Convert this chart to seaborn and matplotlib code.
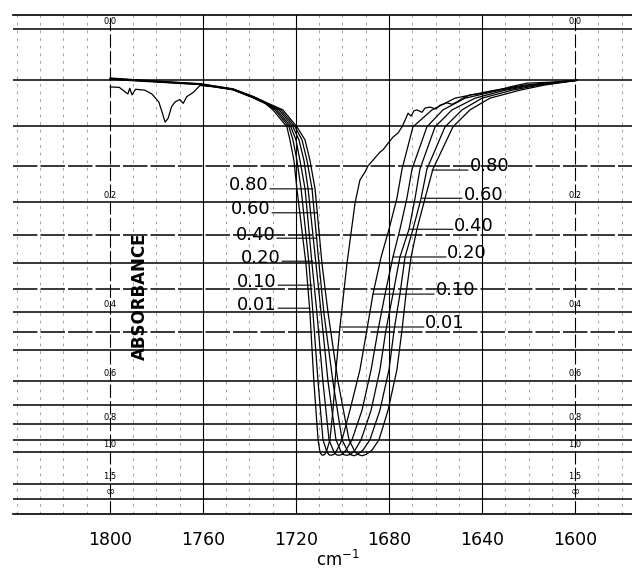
import numpy as np
import pandas as pd
import matplotlib
matplotlib.use("Agg")
import matplotlib.pyplot as plt
import seaborn as sns

# traces: wavenumber (cm-1) and transmittance (fraction)
wn_001 = [1800, 1796, 1792.3, 1791.5, 1790.5, 1789, 1785, 1782, 1779, 1777.5,
          1776.3, 1775, 1773.5, 1772, 1770, 1768.5, 1767, 1764, 1761.3, 1755,
          1747.1, 1738.5, 1733.3, 1729.9, 1723.9, 1722.6, 1720.9, 1719.6, 1715.7, 1714.0,
          1712.3, 1710.5, 1709.7, 1709.0, 1708.4, 1707.6, 1706.7, 1705.4, 1704.1, 1702.8,
          1701.1, 1698.1, 1694.6, 1692.5, 1690.3, 1689.0, 1686.9, 1683.9, 1682.6, 1680.4,
          1678.3, 1676.1, 1674.4, 1673.1, 1671.8, 1670.5, 1669.3, 1668.0, 1665.8, 1664.5,
          1662.4, 1659.8, 1658.1, 1655.1, 1652.9, 1650.8, 1648.2, 1645.2, 1641.7, 1637.8,
          1633.1, 1628.0, 1620.6, 1610.8, 1599]
t_001 = [.877, .876, .862, .874, .860, .872, .870, .862, .845, .822,
         .802, .810, .835, .845, .850, .842, .856, .866, .880, .877,
         .871, .854, .842, .828, .792, .764, .721, .660, .500, .396,
         .249, .126, .100, .094, .093, .095, .104, .126, .189, .275,
         .366, .500, .630, .679, .696, .709, .721, .738, .743, .757,
         .770, .779, .792, .806, .821, .815, .826, .828, .823, .832,
         .834, .830, .838, .843, .840, .845, .853, .860, .862, .866,
         .870, .877, .885, .887, .891]

wn_010 = [1800, 1782.8, 1761.3, 1747.1, 1738.5, 1733.3, 1729.0, 1723.0, 1721.3, 1719.6,
          1717.8, 1714.4, 1712.7, 1710.5, 1708.4, 1706.7, 1705.8, 1704.9, 1703.6, 1702.4,
          1700.2, 1696.8, 1692.5, 1689.5, 1686.9, 1683.4, 1680.0, 1676.6, 1674.4, 1669.7,
          1661.5, 1651.6, 1634.4, 1621.5, 1599]
t_010 = [.894, .889, .883, .872, .855, .843, .828, .792, .764, .721,
         .660, .500, .396, .249, .126, .100, .094, .093, .095, .104,
         .126, .189, .275, .360, .436, .515, .574, .640, .702, .792,
         .828, .853, .870, .881, .891]

wn_020 = [1800, 1782.8, 1761.3, 1747.1, 1738.5, 1733.3, 1728.2, 1722.2, 1720.0, 1718.3,
          1716.1, 1713.1, 1711.0, 1708.4, 1705.8, 1703.7, 1702.6, 1701.5, 1700.0, 1698.5,
          1695.9, 1691.6, 1687.7, 1684.7, 1681.7, 1678.3, 1675.3, 1672.3, 1670.1, 1663.7,
          1656.8, 1647.3, 1632.3, 1619.4, 1599]
t_020 = [.893, .888, .882, .871, .854, .842, .828, .792, .764, .721,
         .660, .500, .396, .249, .126, .100, .094, .093, .095, .104,
         .126, .189, .275, .360, .436, .515, .574, .640, .702, .792,
         .828, .853, .870, .881, .891]

wn_040 = [1800, 1782.8, 1761.3, 1747.1, 1738.5, 1733.3, 1727.3, 1721.3, 1718.7, 1716.6,
          1714.8, 1711.4, 1709.2, 1706.2, 1702.8, 1700.6, 1699.4, 1698.1, 1696.5, 1694.6,
          1692.0, 1687.7, 1683.9, 1681.3, 1678.3, 1675.3, 1671.4, 1668.8, 1666.7, 1660.2,
          1652.9, 1643.0, 1630.1, 1617.2, 1599]
t_040 = [.895, .890, .883, .872, .856, .844, .828, .792, .764, .721,
         .660, .500, .396, .249, .126, .100, .094, .093, .095, .104,
         .126, .189, .275, .360, .436, .515, .574, .640, .702, .792,
         .828, .853, .870, .881, .891]

wn_060 = [1800, 1782.8, 1761.3, 1747.1, 1738.5, 1733.3, 1726.5, 1720.4, 1717.4, 1715.3,
          1713.1, 1710.1, 1708.0, 1704.1, 1700.2, 1697.6, 1696.4, 1695.1, 1693.5, 1691.2,
          1688.2, 1683.9, 1680.0, 1677.8, 1675.3, 1673.1, 1669.7, 1666.2, 1663.7, 1655.9,
          1648.6, 1640.0, 1627.1, 1615.1, 1599]
t_060 = [.894, .889, .882, .871, .855, .843, .828, .792, .764, .721,
         .660, .500, .396, .249, .126, .100, .094, .092, .095, .104,
         .126, .189, .275, .360, .436, .515, .574, .640, .702, .792,
         .828, .853, .870, .881, .891]

wn_080 = [1800, 1782.8, 1761.3, 1747.1, 1738.5, 1733.3, 1725.6, 1719.6, 1716.1, 1714.0,
          1711.8, 1708.8, 1706.2, 1701.9, 1697.2, 1694.6, 1693.0, 1691.6, 1689.8, 1687.3,
          1684.3, 1680.4, 1676.6, 1674.4, 1672.7, 1670.5, 1668.0, 1664.5, 1661.1, 1652.5,
          1645.2, 1636.6, 1623.7, 1613.0, 1599]
t_080 = [.896, .890, .884, .873, .857, .845, .828, .792, .764, .721,
         .660, .500, .396, .249, .126, .100, .094, .092, .095, .104,
         .126, .189, .275, .360, .436, .515, .574, .640, .702, .792,
         .828, .853, .870, .881, .891]

conc = ["0.01", "0.10", "0.20", "0.40", "0.60", "0.80"]
wn_all = [wn_001, wn_010, wn_020, wn_040, wn_060, wn_080]
t_all = [t_001, t_010, t_020, t_040, t_060, t_080]

# chart paper: absorbance rulings and labels
abs_lines = [0.0, 0.05, 0.1, 0.15, 0.2, 0.25, 0.3, 0.35, 0.4, 0.45, 0.5,
             0.6, 0.7, 0.8, 0.9, 1.0, 1.5]
abs_dashed = [0.15, 0.25, 0.35, 0.45]
abs_lab_vals = [0.0, 0.2, 0.4, 0.6, 0.8, 1.0, 1.5]
abs_lab_text = ["0.0", "0.2", "0.4", "0.6", "0.8", "1.0", "1.5"]

x_major = [1800, 1760, 1720, 1680, 1640, 1600]
x_minor = [1840, 1830, 1820, 1810, 1790, 1780, 1770, 1750, 1740, 1730, 1710, 1700,
           1690, 1670, 1660, 1650, 1630, 1620, 1610, 1590, 1580]

# curve labels: (text, point on curve wn, T, leader start wn)
left_labels = [("0.80", 1712.7, 0.660, 1731.2), ("0.60", 1711.0, 0.609, 1730.3),
               ("0.40", 1711.0, 0.555, 1728.2), ("0.20", 1712.7, 0.506, 1726.0),
               ("0.10", 1713.1, 0.455, 1727.7), ("0.01", 1714.0, 0.406, 1727.7)]
right_labels = [("0.80", 1661.5, 0.700, 1646.0), ("0.60", 1665.8, 0.640, 1648.6),
                ("0.40", 1671.0, 0.574, 1652.5), ("0.20", 1678.3, 0.515, 1655.5),
                ("0.10", 1686.9, 0.436, 1660.6), ("0.01", 1701.1, 0.366, 1665.0)]

df = pd.concat([pd.DataFrame({"wn": w, "T": t, "conc": c})
                for w, t, c in zip(wn_all, t_all, conc)], ignore_index=True)

sns.set_style("white")
plt.rcParams["font.family"] = ["DejaVu Sans"]
plt.rcParams["text.color"] = "black"
plt.rcParams["xtick.color"] = "black"
plt.rcParams["axes.labelcolor"] = "black"

fig = plt.figure(figsize=(6.32, 5.71), dpi=100)
ax = fig.add_axes([13 / 632, 57 / 571, 619 / 632, 499 / 571])

for a in abs_lines:
    ls = (0, (16, 2)) if a in abs_dashed else "-"
    ax.axhline(10 ** (-a), color="black", lw=1.1, ls=ls, zorder=1)
ax.axhline(0.0, color="black", lw=1.1, zorder=1)

for w in x_minor:
    ax.axvline(w, color="0.5", lw=0.5, ls=(0, (4, 7)), zorder=0)
for w in x_major:
    ls = (0, (12, 3)) if w in (1800, 1600) else "-"
    ax.axvline(w, color="black", lw=0.8, ls=ls, zorder=0)

sns.lineplot(data=df, x="wn", y="T", units="conc", estimator=None, sort=False,
             color="black", lw=0.9, ax=ax, legend=False, zorder=3)

ax.set_xlim(1841.7, 1575.5)
ax.set_ylim(-0.032, 1.030)
ax.set_xticks(x_major)
ax.set_xticklabels([str(v) for v in x_major])
ax.set_yticks([])
ax.tick_params(axis="x", length=0, pad=12, labelsize=12.5, labelcolor="black")
ax.set_ylabel("")
ax.set_xlabel("cm$^{-1}$", fontsize=12, color="black")
ax.xaxis.set_label_coords(0.525, -0.072)
for s in ("left", "right"):
    ax.spines[s].set_visible(False)
for s in ("top", "bottom"):
    ax.spines[s].set_linewidth(1.2)
    ax.spines[s].set_color("black")

for w in (1800, 1600):
    for v, lab in zip(abs_lab_vals, abs_lab_text):
        ax.annotate(lab, (w, 10 ** (-v)), xytext=(0, 2), textcoords="offset points",
                    ha="center", va="bottom", fontsize=6, color="black")
    ax.annotate("∞", (w, 0.0), xytext=(0, 1), textcoords="offset points",
                ha="center", va="bottom", fontsize=8, color="black")

for lab, wc, tc, ws in left_labels:
    ax.annotate("", xy=(wc, tc), xytext=(ws, tc),
                arrowprops=dict(arrowstyle="-", lw=0.8, color="black", shrinkA=0, shrinkB=0))
    ax.annotate(lab, (ws, tc), xytext=(-1, -1), textcoords="offset points",
                ha="right", va="baseline", fontsize=13, color="black")
for lab, wc, tc, ws in right_labels:
    ax.annotate("", xy=(wc, tc), xytext=(ws, tc),
                arrowprops=dict(arrowstyle="-", lw=0.8, color="black", shrinkA=0, shrinkB=0))
    ax.annotate(lab, (ws, tc), xytext=(1, -1), textcoords="offset points",
                ha="left", va="baseline", fontsize=13, color="black")

ax.text(0.205, 0.437, "ABSORBANCE", transform=ax.transAxes, rotation=90,
        ha="center", va="center", fontsize=12, fontweight="bold", color="black")

fig.savefig("out.png", dpi=100)
